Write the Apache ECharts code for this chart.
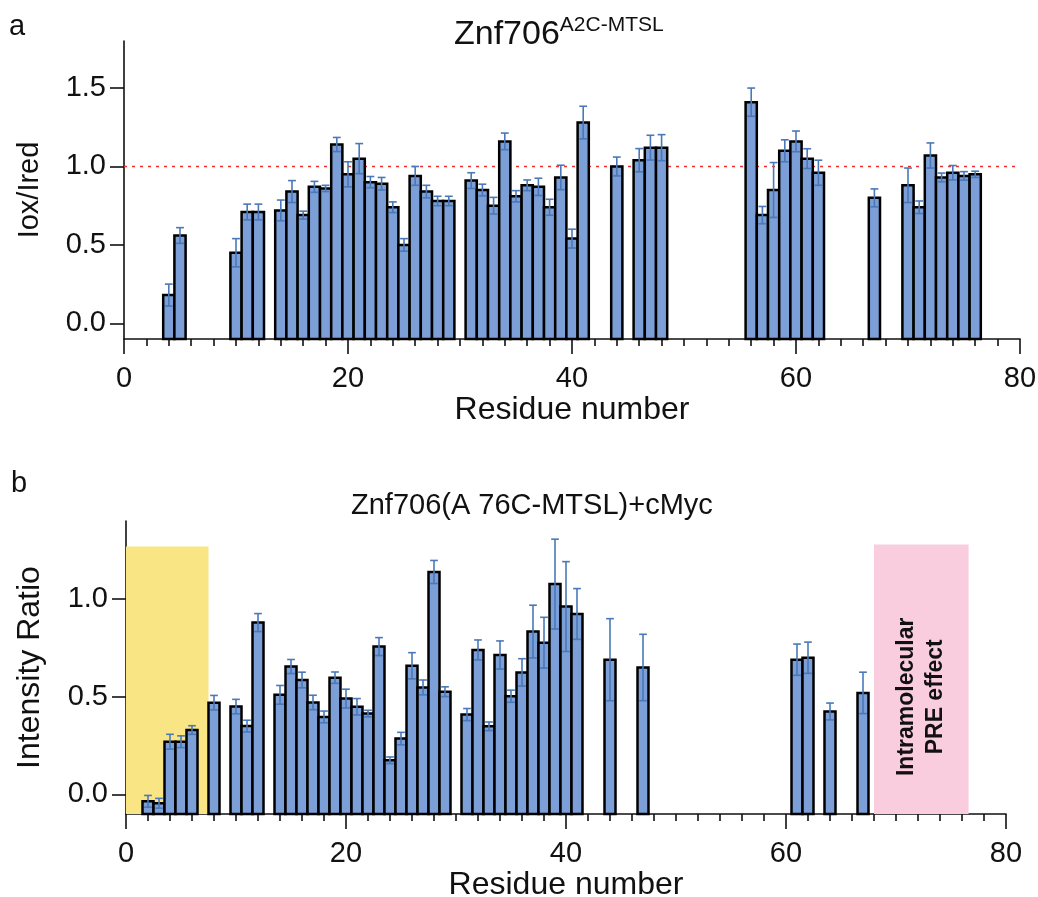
<!DOCTYPE html>
<html>
<head>
<meta charset="utf-8">
<script src="https://cdn.jsdelivr.net/npm/echarts@6/dist/echarts.min.js"></script>
<style>
  html, body { margin: 0; padding: 0; background: #fff; }
  #main { width: 1038px; height: 897px; }
</style>
</head>
<body>
<div id="main"></div>
<script>
// panel a: Znf706 A2C-MTSL, Iox/Ired per residue
var resA = [4,5,10,11,12,14,15,16,17,18,19,20,21,22,23,24,25,26,27,28,29,31,32,33,34,35,36,37,38,39,40,41,44,46,47,48,56,57,58,59,60,61,62,67,70,71,72,73,74,75,76];
var valA = [0.18,0.56,0.45,0.71,0.71,0.72,0.84,0.69,0.87,0.86,1.14,0.95,1.05,0.90,0.89,0.74,0.50,0.94,0.84,0.78,0.78,0.91,0.85,0.75,1.16,0.81,0.88,0.87,0.74,0.93,0.54,1.28,1.00,1.04,1.12,1.12,1.41,0.69,0.85,1.10,1.16,1.05,0.96,0.80,0.88,0.74,1.07,0.93,0.96,0.94,0.95];
var errA = [0.07,0.05,0.09,0.05,0.05,0.066,0.07,0.025,0.035,0.02,0.045,0.08,0.096,0.036,0.04,0.034,0.04,0.06,0.04,0.03,0.03,0.05,0.037,0.053,0.053,0.036,0.034,0.055,0.051,0.078,0.06,0.104,0.06,0.074,0.079,0.083,0.09,0.055,0.175,0.07,0.066,0.063,0.08,0.057,0.11,0.04,0.08,0.028,0.046,0.027,0.02];
var refLineA = 1.0;

// panel b: Znf706(A76C-MTSL)+cMyc, intensity ratio
var resB = [2,3,4,5,6,8,10,11,12,14,15,16,17,18,19,20,21,22,23,24,25,26,27,28,29,31,32,33,34,35,36,37,38,39,40,41,44,47,61,62,64,67];
var valB = [-0.035,-0.045,0.27,0.27,0.33,0.47,0.45,0.35,0.88,0.51,0.655,0.586,0.471,0.397,0.598,0.491,0.449,0.414,0.757,0.175,0.286,0.659,0.548,1.139,0.526,0.409,0.74,0.349,0.714,0.503,0.625,0.834,0.777,1.077,0.962,0.924,0.69,0.65,0.69,0.70,0.425,0.52];
var errB = [0.03,0.025,0.038,0.03,0.022,0.037,0.037,0.03,0.046,0.048,0.036,0.04,0.037,0.03,0.029,0.048,0.042,0.017,0.046,0.017,0.032,0.067,0.038,0.059,0.025,0.031,0.051,0.022,0.072,0.031,0.07,0.135,0.13,0.23,0.23,0.13,0.21,0.17,0.08,0.08,0.043,0.106];

// shaded regions in panel b
var regionFrom = [0, 68];
var regionTo = [7.5, 76.6];
var regionTop = [1.27, 1.28];
var regionText = ['', 'Intramolecular\nPRE effect'];

var ticksA = [0, 0.5, 1.0, 1.5];
var ticksB = [0, 0.5, 1.0];

var FONT = 'Liberation Sans, Arial, sans-serif';
var BAR_FILL = '#7b9fd6';
var ERR_COL = '#4a78b8';
var Y_MIN = -0.1;

function zip3(a, b, c) {
  return a.map(function (x, i) { return [x, b[i], c[i]]; });
}

function renderBar(params, api) {
  var x = api.value(0), v = api.value(1);
  var p0 = api.coord([x - 0.5, Y_MIN]);
  var p1 = api.coord([x + 0.5, v]);
  return {
    type: 'rect',
    shape: { x: p0[0], y: p1[1], width: p1[0] - p0[0], height: p0[1] - p1[1] },
    style: { fill: BAR_FILL, stroke: '#000', lineWidth: 2.5 }
  };
}

function renderErr(params, api) {
  var x = api.value(0), v = api.value(1), e = api.value(2);
  var hi = api.coord([x, v + e]);
  var lo = api.coord([x, v - e]);
  var half = api.size([0.7, 0])[0] / 2;
  var st = { stroke: ERR_COL, lineWidth: 1.6 };
  return {
    type: 'group',
    children: [
      { type: 'line', shape: { x1: hi[0], y1: hi[1], x2: lo[0], y2: lo[1] }, style: st },
      { type: 'line', shape: { x1: hi[0] - half, y1: hi[1], x2: hi[0] + half, y2: hi[1] }, style: st },
      { type: 'line', shape: { x1: lo[0] - half, y1: lo[1], x2: lo[0] + half, y2: lo[1] }, style: st }
    ]
  };
}

var regionColors = ['#f9e583', '#f9cddd'];
function renderRegion(params, api) {
  var i = params.dataIndex;
  var p0 = api.coord([api.value(0), Y_MIN]);
  var p1 = api.coord([api.value(1), api.value(2)]);
  var children = [{
    type: 'rect',
    shape: { x: p0[0], y: p1[1], width: p1[0] - p0[0], height: p0[1] - p1[1] },
    style: { fill: regionColors[i] }
  }];
  if (regionText[i]) {
    var c = api.coord([(api.value(0) + api.value(1)) / 2, 0.5]);
    children.push({
      type: 'text',
      x: c[0], y: c[1],
      rotation: Math.PI / 2,
      style: {
        text: regionText[i], fontSize: 23, fontWeight: 'bold', fontFamily: FONT,
        fill: '#111', align: 'center', verticalAlign: 'middle', lineHeight: 29
      }
    });
  }
  return { type: 'group', children: children };
}

function xAxis(gridIndex) {
  return {
    gridIndex: gridIndex, type: 'value', min: 0, max: 80, interval: 20,
    name: 'Residue number', nameLocation: 'middle', nameGap: 35,
    nameTextStyle: { fontSize: 32, fontFamily: FONT, color: '#111' },
    axisLine: { onZero: false, lineStyle: { color: '#111', width: 1.6 } },
    axisTick: { length: 15, lineStyle: { color: '#111', width: 1.6 } },
    minorTick: { show: true, splitNumber: 10, length: 7, lineStyle: { color: '#111', width: 1.6 } },
    axisLabel: { fontSize: 29, fontFamily: FONT, color: '#111', margin: 25 },
    splitLine: { show: false }
  };
}

function yAxis(gridIndex, max, ticks, name, nameSize) {
  return {
    gridIndex: gridIndex, type: 'value', min: Y_MIN, max: max,
    name: name, nameLocation: 'middle', nameGap: 80,
    nameTextStyle: { fontSize: nameSize, fontFamily: FONT, color: '#111' },
    axisLine: { show: true, lineStyle: { color: '#111', width: 1.6 } },
    axisTick: { show: true, length: 14, customValues: ticks, lineStyle: { color: '#111', width: 1.6 } },
    axisLabel: {
      fontSize: 29, fontFamily: FONT, color: '#111', margin: 18, customValues: ticks,
      formatter: function (v) { return v.toFixed(1); }
    },
    splitLine: { show: false }
  };
}

var chart = echarts.init(document.getElementById('main'));

chart.setOption({
  animation: false,
  backgroundColor: '#fff',
  title: [
    {
      text: '{a|Znf706}{b|A2C-MTSL}', left: 449, top: 10,
      textStyle: {
        fontWeight: 'normal',
        rich: {
          a: { fontSize: 34, fontWeight: 'normal', fontFamily: FONT, color: '#111', lineHeight: 40 },
          b: { fontSize: 21, fontWeight: 'normal', fontFamily: FONT, color: '#111', verticalAlign: 'top', lineHeight: 40, padding: [0, 0, 14, 0] }
        }
      }
    },
    {
      text: 'Znf706(A 76C-MTSL)+cMyc', left: 346, top: 486,
      textStyle: { fontSize: 29, fontWeight: 'normal', fontFamily: FONT, color: '#111' }
    },
    { text: 'a', left: 4, top: 7, textStyle: { fontSize: 29, fontWeight: 'normal', fontFamily: FONT, color: '#111' } },
    { text: 'b', left: 6, top: 464, textStyle: { fontSize: 29, fontWeight: 'normal', fontFamily: FONT, color: '#111' } }
  ],
  grid: [
    { left: 124, top: 41, width: 896, height: 298, outerBoundsMode: 'none' },
    { left: 126, top: 521, width: 880, height: 293, outerBoundsMode: 'none' }
  ],
  xAxis: [xAxis(0), xAxis(1)],
  yAxis: [yAxis(0, 1.8, ticksA, 'Iox/Ired', 29), yAxis(1, 1.4, ticksB, 'Intensity Ratio', 32)],
  series: [
    {
      type: 'line', xAxisIndex: 0, yAxisIndex: 0, symbol: 'none', silent: true,
      data: [[0, refLineA], [80, refLineA]],
      lineStyle: { color: '#f03030', width: 1.6, type: [3, 5] }, z: 1
    },
    {
      type: 'custom', xAxisIndex: 0, yAxisIndex: 0, renderItem: renderBar,
      data: zip3(resA, valA, errA), z: 2
    },
    {
      type: 'custom', xAxisIndex: 0, yAxisIndex: 0, renderItem: renderErr,
      data: zip3(resA, valA, errA), z: 3
    },
    {
      type: 'custom', xAxisIndex: 1, yAxisIndex: 1, renderItem: renderRegion,
      data: zip3(regionFrom, regionTo, regionTop), z: 1
    },
    {
      type: 'custom', xAxisIndex: 1, yAxisIndex: 1, renderItem: renderBar,
      data: zip3(resB, valB, errB), z: 2
    },
    {
      type: 'custom', xAxisIndex: 1, yAxisIndex: 1, renderItem: renderErr,
      data: zip3(resB, valB, errB), z: 3
    }
  ]
});

window.addEventListener('resize', function () { chart.resize(); });
</script>
</body>
</html>
